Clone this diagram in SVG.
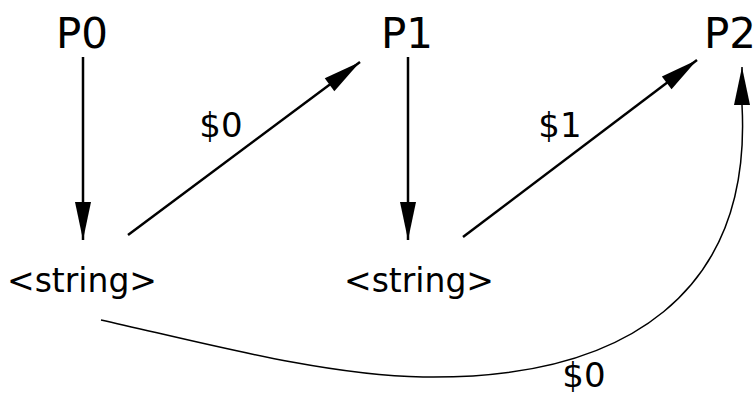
<svg xmlns="http://www.w3.org/2000/svg" width="756" height="394" viewBox="0 0 756 394">
<style>
text{font-family:"DejaVu Sans",sans-serif;fill:#000;text-anchor:middle}
.p{font-size:42px}
.s{font-size:33px}
.l{font-size:34px}
.e{fill:none;stroke:#000;stroke-width:2.5}
.c{fill:none;stroke:#000;stroke-width:1.5}
</style>
<defs>
<marker id="ah" markerUnits="userSpaceOnUse" markerWidth="40" markerHeight="20" refX="38" refY="8" orient="auto" overflow="visible">
<path d="M0,0 L38,8 L0,16 Z" fill="#000"/>
</marker>
</defs>
<rect width="756" height="394" fill="#fff"/>
<g id="P0"><text class="p" x="82" y="48">P0</text></g>
<g id="P1"><text class="p" x="407" y="48">P1</text></g>
<g id="P2"><text class="p" x="730" y="48">P2</text></g>
<g id="S0"><text class="s" x="82" y="292">&lt;string&gt;</text></g>
<g id="S1"><text class="s" x="419" y="292">&lt;string&gt;</text></g>
<g id="connectors">
<path class="e" d="M83,57 L83,240" marker-end="url(#ah)"/>
<path class="e" d="M128,235 L360,62" marker-end="url(#ah)"/>
<path class="e" d="M408,57 L408,240" marker-end="url(#ah)"/>
<path class="e" d="M463,237 L697,60" marker-end="url(#ah)"/>
<path class="c" d="M101,320 C200,342 323,375.5 423,377 C630,380 752,290 742,105 L742,67" marker-end="url(#ah)"/>
<text class="l" x="221" y="137">$0</text>
<text class="l" x="560" y="137">$1</text>
<text class="l" x="584" y="387">$0</text>
</g>
</svg>
